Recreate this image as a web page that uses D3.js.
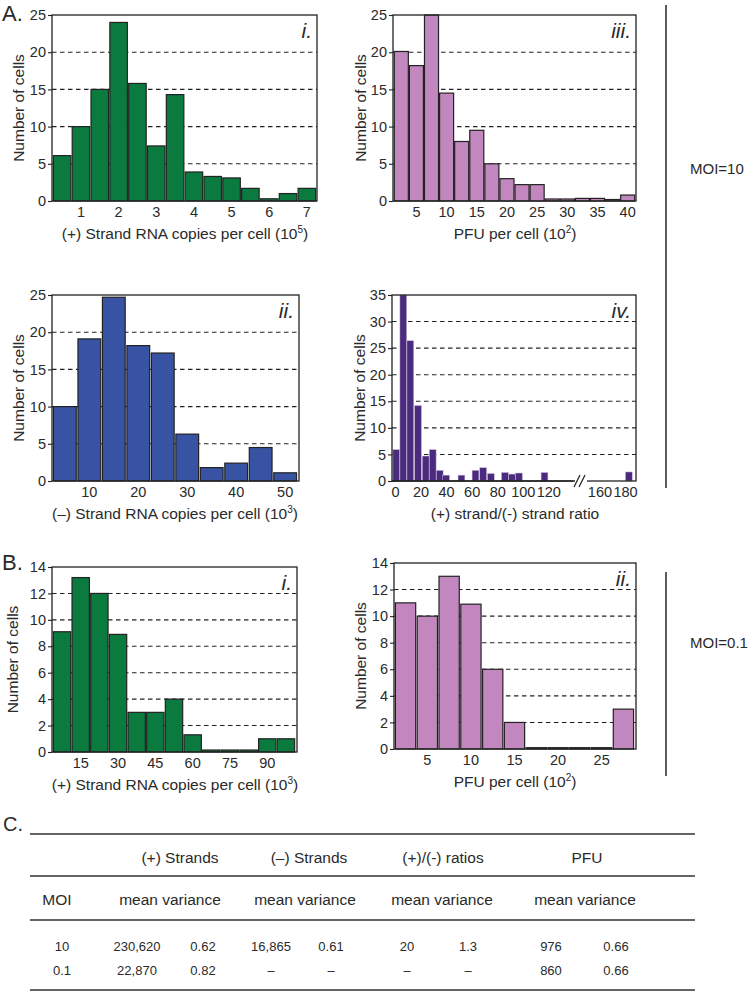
<!DOCTYPE html>
<html><head><meta charset="utf-8">
<script src="https://cdn.jsdelivr.net/npm/d3@7"></script>
<style>
body{margin:0;background:#fff}
svg{display:block;font-family:"Liberation Sans",Arial,Helvetica,sans-serif}
</style>
</head><body>
<svg id="chart" width="750" height="992"></svg>
<script>
// ---------- DATA ----------
// A i : (+) strand RNA copies per cell (10^5), MOI=10 (bins by upper edge)
const aiBins   = [0.5,1,1.5,2,2.5,3,3.5,4,4.5,5,5.5,6,6.5,7];
const aiCounts = [6.1,10,15,24,15.8,7.4,14.3,3.9,3.3,3.1,1.7,0.3,1.0,1.7];
const aiTicks  = [1,2,3,4,5,6,7];

// A iii : PFU per cell (10^2), MOI=10
const aiiiBins   = [2.5,5,7.5,10,12.5,15,17.5,20,22.5,25,27.5,30,32.5,35,37.5,40];
const aiiiCounts = [20.1,18.2,25,14.5,8,9.5,5,3,2.2,2.2,0.27,0.27,0.35,0.35,0.2,0.8];
const aiiiTicks  = [5,10,15,20,25,30,35,40];

// A ii : (-) strand RNA copies per cell (10^3), MOI=10
const aiiBins   = [5,10,15,20,25,30,35,40,45,50];
const aiiCounts = [10,19.1,24.7,18.2,17.2,6.3,1.8,2.4,4.5,1.1];
const aiiTicks  = [10,20,30,40,50];

// A iv : (+)/(-) strand ratio, MOI=10
const aivRatio  = [1,6.5,12,18,24,29.5,35,40,52,63,69,75,86,91.5,97,117,183];
const aivCounts = [5.9,35,26.4,14.2,4.7,5.9,2.0,1.1,1.1,2.0,2.5,1.4,1.6,1.3,1.5,1.6,1.7];
const aivTicks  = [0,20,40,60,80,100,120,160,180];

// B i : (+) strand RNA copies per cell (10^3), MOI=0.1
const biBins   = [7.5,15,22.5,30,37.5,45,52.5,60,67.5,75,82.5,90,97.5];
const biCounts = [9.1,13.2,12,8.9,3,3,4,1.3,0.15,0.15,0.15,1,1];
const biTicks  = [15,30,45,60,75,90];

// B ii : PFU per cell (10^2), MOI=0.1
const biiBins   = [2.5,5,7.5,10,12.5,15,17.5,20,22.5,25,27.5];
const biiCounts = [11,10,13,10.9,6,2,0.1,0.1,0.1,0.1,3];
const biiTicks  = [5,10,15,20,25];

const yTicks25 = [0,5,10,15,20,25];
const yTicks35 = [0,5,10,15,20,25,30,35];
const yTicks14 = [0,2,4,6,8,10,12,14];

// C : summary table
const tableGroups = ["(+) Strands","(–) Strands","(+)/(-) ratios","PFU"];
const tableSub    = ["mean variance"];
const moiLevels   = ["10","0.1"];
const plusMean    = ["230,620","22,870"];
const plusVar     = ["0.62","0.82"];
const minusMean   = ["16,865","–"];
const minusVar    = ["0.61","–"];
const ratioMean   = ["20","–"];
const ratioVar    = ["1.3","–"];
const pfuMean     = ["976","860"];
const pfuVar      = ["0.66","0.66"];

// ---------- DRAW ----------
const svg = d3.select("#chart");
const INK = "#222";
const TXT = "#2a2a2a";

function panel(o){
  const g = svg.append("g");
  const y = d3.scaleLinear().domain([0,o.yMax]).range([o.b,o.t]);
  g.selectAll("line.grid").data(o.yTicks.filter(v=>v>0 && v<o.yMax)).join("line")
    .attr("x1",o.l).attr("x2",o.r).attr("y1",d=>y(d)).attr("y2",d=>y(d))
    .attr("stroke",INK).attr("stroke-width",1.1).attr("stroke-dasharray","4.5,3.5");
  let x;
  if(o.linear){
    x = d3.scaleLinear().domain([0,180]).range([o.x0,o.x180]);
    g.selectAll("rect.bar").data(o.xs).join("rect")
      .attr("x",d=>x(d)-o.barW/2).attr("width",o.barW)
      .attr("y",(d,i)=>y(o.counts[i])).attr("height",(d,i)=>y(0)-y(o.counts[i]))
      .attr("fill",o.color).attr("stroke","#c9b8dc").attr("stroke-width",0.5);
  } else {
    x = d3.scaleBand().domain(o.bins).range([o.l+1,o.barR]).paddingInner(0.07).paddingOuter(0.02);
    g.selectAll("rect.bar").data(o.bins).join("rect")
      .attr("x",d=>x(d)).attr("width",x.bandwidth())
      .attr("y",(d,i)=>y(o.counts[i])).attr("height",(d,i)=>y(0)-y(o.counts[i]))
      .attr("fill",o.color).attr("stroke",INK).attr("stroke-width",1.2);
  }
  g.append("rect").attr("x",o.l).attr("y",o.t).attr("width",o.r-o.l).attr("height",o.b-o.t)
    .attr("fill","none").attr("stroke",INK).attr("stroke-width",1.3);
  const ya = g.append("g").attr("transform",`translate(${o.l},0)`)
    .call(d3.axisLeft(y).tickValues(o.yTicks).tickSize(4).tickPadding(2));
  ya.select(".domain").remove();
  ya.selectAll("line").attr("stroke",INK).attr("stroke-width",1.1);
  ya.selectAll("text").attr("font-size",14.5).attr("fill",TXT).attr("font-family",null);
  const xa = g.append("g").attr("transform",`translate(0,${o.b})`)
    .call(d3.axisBottom(x).tickValues(o.xTicks).tickSize(0).tickPadding(6).tickFormat(d3.format("d")));
  xa.select(".domain").remove();
  xa.selectAll("text").attr("font-size",14.5).attr("fill",TXT).attr("font-family",null);
  const t = g.append("text").attr("x",o.titleX).attr("y",o.b+38).attr("text-anchor","middle")
    .attr("font-size",15.5).attr("fill",TXT);
  t.append("tspan").text(o.title);
  if(o.sup){
    t.append("tspan").attr("font-size",10).attr("dy",-6).text(o.sup);
    t.append("tspan").attr("dy",6).text(")");
  }
  g.append("text").attr("transform",`translate(${o.l-o.ytOff},${(o.t+o.b)/2}) rotate(-90)`)
    .attr("text-anchor","middle").attr("dy","0.35em").attr("font-size",15.5).attr("fill",TXT)
    .text("Number of cells");
  g.append("text").attr("x",o.r-5).attr("y",o.t+23).attr("text-anchor","end")
    .attr("font-size",21).attr("font-style","italic").attr("fill",TXT).text(o.numeral);
  return {g,x,y};
}

const green="#0a7a3f", pink="#c387bf", blue="#3953a4", purple="#4b2b7d";

panel({l:52,r:317,t:15,b:201,barR:316,bins:aiBins,counts:aiCounts,xTicks:aiTicks,yMax:25,yTicks:yTicks25,
  color:green,title:"(+) Strand RNA copies per cell (10",sup:"5",titleX:185,ytOff:33,numeral:"i."});
panel({l:393,r:636,t:15,b:201,barR:635,bins:aiiiBins,counts:aiiiCounts,xTicks:aiiiTicks,yMax:25,yTicks:yTicks25,
  color:pink,title:"PFU per cell (10",sup:"2",titleX:515,ytOff:32,numeral:"iii."});
panel({l:52,r:299,t:295,b:481,barR:297,bins:aiiBins,counts:aiiCounts,xTicks:aiiTicks,yMax:25,yTicks:yTicks25,
  color:blue,title:"(–) Strand RNA copies per cell (10",sup:"3",titleX:175,ytOff:33,numeral:"ii."});
const iv = panel({l:392,r:636,t:295,b:481,linear:true,x0:395,x180:625,barW:6.8,xs:aivRatio,counts:aivCounts,
  xTicks:aivTicks,yMax:35,yTicks:yTicks35,color:purple,title:"(+) strand/(-) strand ratio",titleX:515,ytOff:32,numeral:"iv."});
iv.g.append("rect").attr("x",573).attr("y",476).attr("width",14).attr("height",12).attr("fill","#fff");
iv.g.selectAll("line.brk").data([0,5]).join("line")
  .attr("x1",d=>574+d).attr("x2",d=>580+d).attr("y1",487).attr("y2",475)
  .attr("stroke",INK).attr("stroke-width",1.2);
iv.g.append("line").attr("x1",392).attr("x2",575).attr("y1",481).attr("y2",481).attr("stroke",INK).attr("stroke-width",1.3);

svg.append("text").attr("x",2).attr("y",21).attr("font-size",22).attr("fill",TXT).text("A.");

panel({l:52,r:297,t:567,b:752,barR:295,bins:biBins,counts:biCounts,xTicks:biTicks,yMax:14,yTicks:yTicks14,
  color:green,title:"(+) Strand RNA copies per cell (10",sup:"3",titleX:175,ytOff:39,numeral:"i."});
panel({l:394,r:636,t:563,b:749,barR:634,bins:biiBins,counts:biiCounts,xTicks:biiTicks,yMax:14,yTicks:yTicks14,
  color:pink,title:"PFU per cell (10",sup:"2",titleX:515,ytOff:33,numeral:"ii."});
svg.append("text").attr("x",2).attr("y",570).attr("font-size",22).attr("fill",TXT).text("B.");

svg.append("line").attr("x1",666).attr("x2",666).attr("y1",5).attr("y2",488).attr("stroke","#333").attr("stroke-width",1.6);
svg.append("line").attr("x1",666).attr("x2",666).attr("y1",572).attr("y2",776).attr("stroke","#333").attr("stroke-width",1.6);
svg.append("text").attr("x",690).attr("y",174).attr("font-size",15).attr("fill",TXT).text("MOI=10");
svg.append("text").attr("x",690).attr("y",648).attr("font-size",15).attr("fill",TXT).text("MOI=0.1");

// ---------- TABLE C ----------
svg.append("text").attr("x",3).attr("y",831).attr("font-size",20).attr("fill",TXT).text("C.");
const tL=30, tR=695;
[834,876,920,990].forEach(yy=>{
  svg.append("line").attr("x1",tL).attr("x2",tR).attr("y1",yy).attr("y2",yy).attr("stroke","#333").attr("stroke-width",1.3);
});
const groupX = [180,309,443,587];
const subX = [170,305,442,585];
svg.selectAll("text.grp").data(tableGroups).join("text")
  .attr("x",(d,i)=>groupX[i]).attr("y",863).attr("text-anchor","middle").attr("font-size",15.5).attr("fill",TXT).text(d=>d);
svg.append("text").attr("x",57).attr("y",905).attr("text-anchor","middle").attr("font-size",15.5).attr("fill",TXT).text("MOI");
svg.selectAll("text.sub").data(subX).join("text")
  .attr("x",d=>d).attr("y",905).attr("text-anchor","middle").attr("font-size",15.5).attr("fill",TXT).text(tableSub[0]);
const cols = [plusMean,plusVar,minusMean,minusVar,ratioMean,ratioVar,pfuMean,pfuVar];
const colX = [137,203,271,331,407,468,551,616];
const rowY = [951,975];
moiLevels.forEach((m,r)=>{
  svg.append("text").attr("x",62).attr("y",rowY[r]).attr("text-anchor","middle").attr("font-size",13).attr("fill",TXT).text(m);
  cols.forEach((c,k)=>{
    svg.append("text").attr("x",colX[k]).attr("y",rowY[r]).attr("text-anchor","middle").attr("font-size",13).attr("fill",TXT).text(c[r]);
  });
});
</script>
</body></html>
